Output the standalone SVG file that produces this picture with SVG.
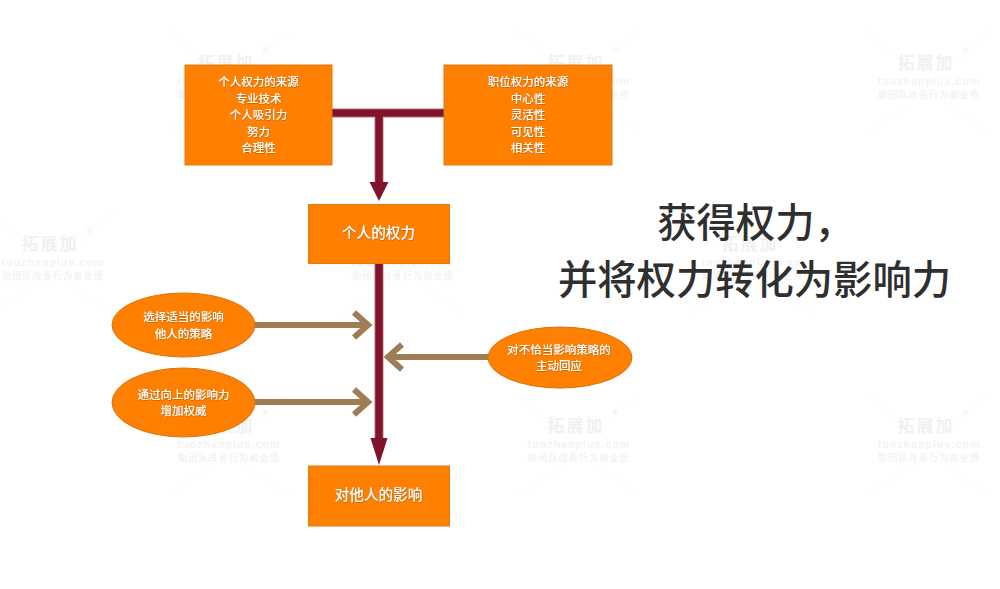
<svg xmlns="http://www.w3.org/2000/svg" width="1000" height="589" viewBox="0 0 1000 589">
<style>
text{font-family:"Noto Sans CJK SC","Liberation Sans",sans-serif;text-anchor:middle}
.box{fill:#ff8000;stroke:#e07a10;stroke-width:1}
.oval{fill:#ff8000;stroke:#d9730a;stroke-width:1}
.lbl{fill:#fff;font-size:11.5px;font-weight:500;filter:url(#glow)}
.big{fill:#fff;font-size:14.6px;font-weight:500;filter:url(#glow)}
.title{fill:#2f2f2f;font-size:39.3px;font-weight:500}
.redo{fill:none;stroke:#d9a3ae;stroke-width:9.5}
.red{fill:none;stroke:#80142a;stroke-width:7.5}
.redh{fill:#80142a}
.brown{fill:none;stroke:#a07c55;stroke-width:6}
.wm1{fill:#f1f1f1;font-size:17px;font-weight:700;letter-spacing:2px}
.wm2{fill:#f3f3f3;font-size:10.5px;font-family:"Liberation Sans",sans-serif;letter-spacing:1.1px;font-weight:700}
.wm3{fill:#f3f3f3;font-size:9px;letter-spacing:1.2px;font-weight:700}
.wm4{fill:#f1f1f1;font-size:11px}
.wml{stroke:#fbfbfb;stroke-width:1;fill:none}
</style>
<defs>
<filter id="glow" x="-10%" y="-30%" width="120%" height="160%"><feDropShadow dx="0.4" dy="0.6" stdDeviation="0.6" flood-color="#8a4a00" flood-opacity="0.7"/></filter>
<g id="wmk">
<path class="wml" d="M-60 -30L-25 0M60 -30L25 0M-60 70L-15 40M60 70L15 40"/>
<text class="wm1" x="-3" y="7">拓展加</text>
<text class="wm4" x="36" y="-6">®</text>
<text class="wm2" x="0" y="23">tuozhanplus.com</text>
<text class="wm3" x="0" y="36">助团队改善行为和业绩</text>
</g>
</defs>
<rect width="1000" height="589" fill="#fff"/>
<g id="watermarks">
<use href="#wmk" x="229" y="62"/><use href="#wmk" x="579" y="62"/><use href="#wmk" x="929" y="62"/>
<use href="#wmk" x="53" y="243"/><use href="#wmk" x="403" y="243"/><use href="#wmk" x="753" y="243"/>
<use href="#wmk" x="229" y="425"/><use href="#wmk" x="579" y="425"/><use href="#wmk" x="929" y="425"/>
</g>
<g id="connectors">
<path class="redo" d="M332 113H444M379 113V184M379 263V440"/>
<path class="red" d="M332 113H444M379 113V184"/>
<path class="redh" d="M369.500 182H388.500L379 201Z"/>
<path class="red" d="M379 263V440"/>
<path class="redh" d="M370.500 438H387.500L379 465Z"/>
<path class="brown" d="M254 325H368M354 312.500L368 325L354 337.500"/>
<path class="brown" d="M254 402H368M354 389.500L368 402L354 414.500"/>
<path class="brown" d="M488 357H388M402 344.500L388 357L402 369.500"/>
</g>
<g id="node-personal-sources">
<rect class="box" x="185" y="65" width="147" height="100"/>
<text class="lbl" x="258.500" y="86">个人权力的来源</text>
<text class="lbl" x="258.500" y="102.500">专业技术</text>
<text class="lbl" x="258.500" y="119">个人吸引力</text>
<text class="lbl" x="258.500" y="135.500">努力</text>
<text class="lbl" x="258.500" y="152">合理性</text>
</g>
<g id="node-position-sources">
<rect class="box" x="444" y="65" width="168" height="100"/>
<text class="lbl" x="528" y="86">职位权力的来源</text>
<text class="lbl" x="528" y="102.500">中心性</text>
<text class="lbl" x="528" y="119">灵活性</text>
<text class="lbl" x="528" y="135.500">可见性</text>
<text class="lbl" x="528" y="152">相关性</text>
</g>
<g id="node-personal-power">
<rect class="box" x="308.500" y="204.500" width="141" height="59"/>
<text class="big" x="378.500" y="238">个人的权力</text>
</g>
<g id="node-influence">
<rect class="box" x="308.500" y="466" width="141" height="60"/>
<text class="big" x="378.500" y="500">对他人的影响</text>
</g>
<g id="node-strategy">
<ellipse class="oval" cx="183.500" cy="325" rx="71.500" ry="32"/>
<text class="lbl" x="183.500" y="321">选择适当的影响</text>
<text class="lbl" x="183.500" y="337.500">他人的策略</text>
</g>
<g id="node-upward">
<ellipse class="oval" cx="183.500" cy="402.500" rx="71.500" ry="34.500"/>
<text class="lbl" x="183.500" y="398.500">通过向上的影响力</text>
<text class="lbl" x="183.500" y="415">增加权威</text>
</g>
<g id="node-response">
<ellipse class="oval" cx="560" cy="357.500" rx="72" ry="30.500"/>
<text class="lbl" x="559" y="353.500">对不恰当影响策略的</text>
<text class="lbl" x="559" y="370">主动回应</text>
</g>
<g id="title">
<text class="title" x="755.500" y="236.500">获得权力，</text>
<text class="title" x="754.500" y="293.500">并将权力转化为影响力</text>
</g>
</svg>
